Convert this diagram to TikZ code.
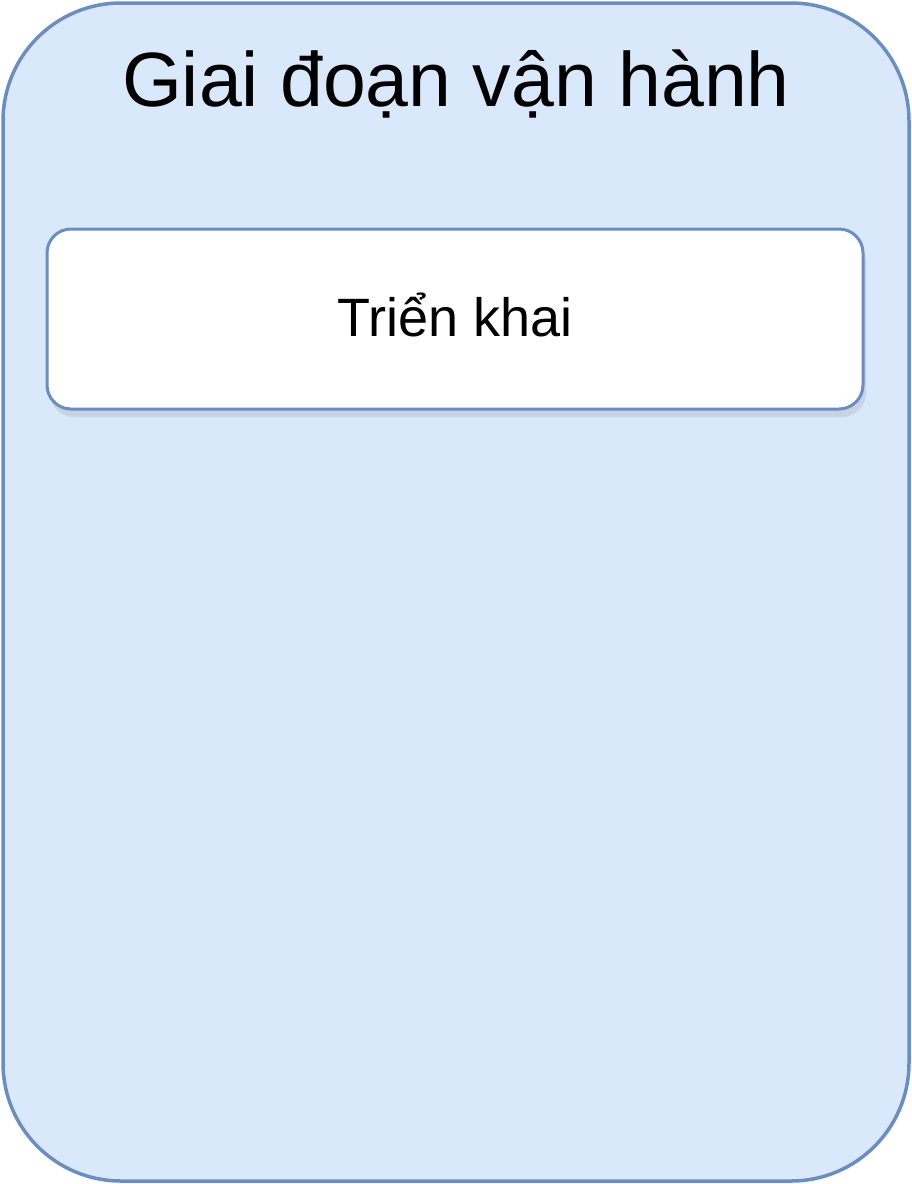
\documentclass[tikz,border=0pt]{standalone}
\usepackage{fontspec}
\setmainfont{Liberation Sans}
\usetikzlibrary{positioning,shadows}
\definecolor{phasefill}{HTML}{DAE8FC}
\definecolor{phaseline}{HTML}{6C8EBF}

\begin{document}
\begin{tikzpicture}[x=1pt,y=-1pt,
	phase/.style={draw=phaseline,fill=phasefill,line width=3.5pt,rounded corners=118pt,
		minimum width=906pt,minimum height=1178pt,inner sep=0pt},
	stage/.style={draw=phaseline,fill=white,line width=3pt,rounded corners=24pt,
		minimum width=816pt,minimum height=180pt,inner sep=0pt,
		drop shadow={opacity=0.2,shadow xshift=3pt,shadow yshift=-8pt}},
	title/.style={font=\fontsize{77}{92}\selectfont},
	label/.style={font=\fontsize{54}{65}\selectfont}]
	\useasboundingbox (0,0) rectangle (912,1184);
	\node[phase] (operation) at (456,592) {};
	\node[title,anchor=base] (operationtitle) at (456,106) {Giai đoạn vận hành};
	\node[stage] (deploy) at (455,319) {};
	\node[label,anchor=base] (deploylabel) at (455,336) {Triển khai};
\end{tikzpicture}
\end{document}
